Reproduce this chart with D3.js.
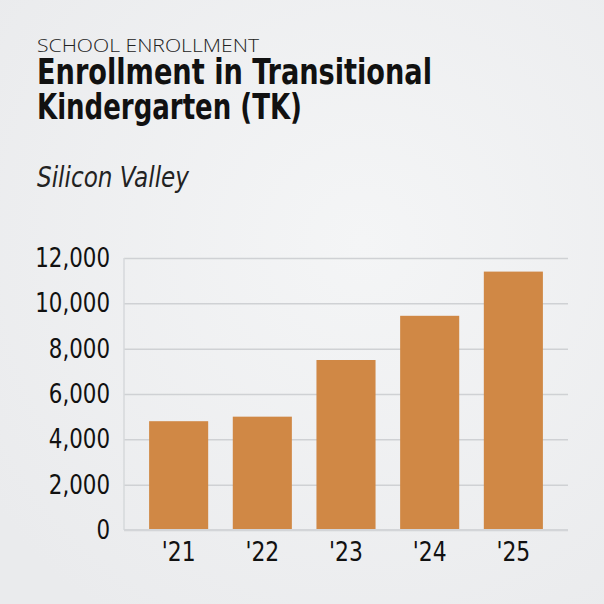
<!DOCTYPE html>
<html>
<head>
<meta charset="utf-8">
<script src="https://cdn.jsdelivr.net/npm/d3@7"></script>
<style>
  html, body { margin: 0; padding: 0; background: #eff0f2; }
  svg { display: block; }
</style>
</head>
<body>
<svg id="chart"></svg>
<script>
// data
const years = ["'21", "'22", "'23", "'24", "'25"];
const enrollment = [4800, 5000, 7500, 9450, 11400];
const yTicks = [0, 2000, 4000, 6000, 8000, 10000, 12000];

const W = 604, H = 604;
const margin = { top: 258, right: 36, bottom: 74, left: 124 };
const width = W - margin.left - margin.right,
  height = H - margin.top - margin.bottom;

const condensed = "'DejaVu Sans Condensed', 'Liberation Sans Narrow', sans-serif";

// squeeze a text element horizontally (the original uses a condensed face)
function squeeze(sel, factor) {
  sel.each(function () {
    const w = this.getComputedTextLength();
    d3.select(this).attr("textLength", w * factor).attr("lengthAdjust", "spacingAndGlyphs");
  });
}
function fitTo(sel, w) {
  sel.attr("textLength", w).attr("lengthAdjust", "spacingAndGlyphs");
}

const svg = d3.select("#chart").attr("width", W).attr("height", H);

// soft background
const defs = svg.append("defs");
const grad = defs.append("radialGradient").attr("id", "bg")
  .attr("cx", "60%").attr("cy", "40%").attr("r", "75%");
grad.append("stop").attr("offset", "0%").attr("stop-color", "#f4f5f6");
grad.append("stop").attr("offset", "100%").attr("stop-color", "#eaebed");
svg.append("rect").attr("width", W).attr("height", H).attr("fill", "url(#bg)");

// titles
svg.append("text").attr("x", 37).attr("y", 52)
  .style("font-family", "'Open Sans', 'Noto Sans', sans-serif")
  .style("font-weight", 300).style("font-size", "19px").style("fill", "#222")
  .text("SCHOOL ENROLLMENT")
  .call(fitTo, 222);

svg.append("text").attr("x", 37).attr("y", 84)
  .style("font-family", condensed).style("font-weight", "bold")
  .style("font-size", "35px").style("fill", "#111")
  .text("Enrollment in Transitional")
  .call(fitTo, 395);

svg.append("text").attr("x", 37).attr("y", 119)
  .style("font-family", condensed).style("font-weight", "bold")
  .style("font-size", "35px").style("fill", "#111")
  .text("Kindergarten (TK)")
  .call(fitTo, 265);

svg.append("text").attr("x", 37).attr("y", 187)
  .style("font-family", condensed).style("font-style", "italic")
  .style("font-size", "28px").style("fill", "#222")
  .text("Silicon Valley")
  .call(fitTo, 152);

const g = svg.append("g")
  .attr("transform", "translate(" + margin.left + "," + margin.top + ")");

const x = d3.scaleBand().domain(years).range([0, width])
  .paddingInner(0.294).paddingOuter(0.3);

const y = d3.scaleLinear().domain([0, 12000]).range([height, 0]);

// grid
g.append("g")
  .call(d3.axisLeft(y).tickValues(yTicks).tickSize(-width).tickFormat(""))
  .call((a) => a.select(".domain").remove())
  .call((a) => a.selectAll("line").attr("stroke", "#cfd1d4").attr("stroke-width", 1.5));

// left frame line
g.append("line").attr("x1", 0).attr("x2", 0).attr("y1", 0).attr("y2", height)
  .attr("stroke", "#d6d8db").attr("stroke-width", 1.5);

// bars
g.append("g").selectAll("rect")
  .data(years)
  .enter()
  .append("rect")
  .attr("x", (d) => x(d))
  .attr("y", (d, i) => y(enrollment[i]))
  .attr("width", x.bandwidth())
  .attr("height", (d, i) => height - y(enrollment[i]))
  .attr("fill", "#d08845");

// baseline
g.append("line").attr("x1", 0).attr("x2", width).attr("y1", height).attr("y2", height)
  .attr("stroke", "#d3d5d8").attr("stroke-width", 2);

// y labels
g.append("g")
  .call(d3.axisLeft(y).tickValues(yTicks).tickSize(0).tickPadding(14).tickFormat(d3.format(",")))
  .call((a) => a.select(".domain").remove())
  .call((a) => a.selectAll("text")
    .style("font-family", condensed).style("font-size", "27px").style("fill", "#111")
    .call(squeeze, 0.88));

// x labels
g.append("g")
  .attr("transform", "translate(0," + height + ")")
  .call(d3.axisBottom(x).tickSize(0).tickPadding(12))
  .call((a) => a.select(".domain").remove())
  .call((a) => a.selectAll("text")
    .style("font-family", condensed).style("font-size", "27px").style("fill", "#111")
    .call(squeeze, 0.9));
</script>
</body>
</html>
